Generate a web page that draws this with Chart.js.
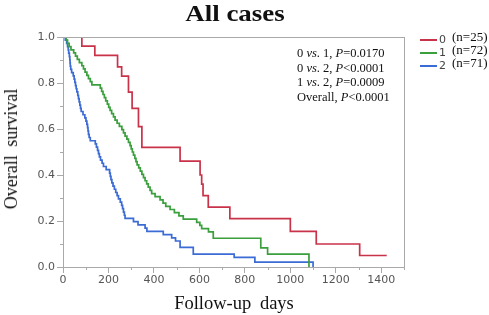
<!DOCTYPE html>
<html lang="en">

<head>
    <meta charset="UTF-8">
    <title>All cases</title>
    <script src="https://cdn.jsdelivr.net/npm/chart.js"></script>
    <style>
        body {
            margin: 0;
            background: #ffffff;
        }

        #wrap {
            position: relative;
            width: 489px;
            height: 315px;
            font-family: "Liberation Serif", "Times New Roman", serif;
            color: #111;
        }

        #wrap div {
            position: absolute;
            white-space: nowrap;
        }

        #legend {
            left: 0;
            top: 0;
        }

        .title {
            left: 235px;
            top: 13px;
            font-size: 23px;
            line-height: 23px;
            font-weight: bold;
            transform: translate(-50%, -50%) scaleX(1.17);
        }

        .ytitle {
            left: 11px;
            top: 149px;
            font-size: 18px;
            line-height: 18px;
            word-spacing: 4px;
            transform: translate(-50%, -50%) rotate(-90deg);
        }

        .xtitle {
            left: 234px;
            top: 303px;
            font-size: 18.5px;
            line-height: 18.5px;
            word-spacing: 4px;
            transform: translate(-50%, -50%);
        }

        .stats {
            left: 297px;
            top: 46px;
            font-size: 12.5px;
            line-height: 14.7px;
        }

        .key {
            left: 420px;
            width: 69px;
            height: 13px;
        }

        .key span {
            position: absolute;
            white-space: nowrap;
        }

        .key .swatch {
            left: 0;
            top: 6px;
            width: 17px;
            height: 2px;
        }

        .key .num {
            left: 19px;
            top: 0px;
            font-family: "DejaVu Sans", sans-serif;
            font-size: 11px;
            line-height: 13px;
            color: #444;
        }

        .key .n {
            left: 32px;
            top: -3px;
            font-size: 13px;
            line-height: 13px;
        }
    </style>
</head>

<body>
    <div id="wrap">
        <canvas id="myChart" width="489" height="315"></canvas>
        <div class="title">All cases</div>
        <div class="ytitle">Overall survival</div>
        <div class="xtitle">Follow-up days</div>
        <div class="stats">
            0 <i>vs</i>. 1, <i>P</i>=0.0170<br>
            0 <i>vs</i>. 2, <i>P</i>&lt;0.0001<br>
            1 <i>vs</i>. 2, <i>P</i>=0.0009<br>
            Overall, <i>P</i>&lt;0.0001
        </div>
        <div id="legend"></div>
    </div>

    <script>
        // 各組存活曲線 (Kaplan-Meier)，天數與存活率
        const groupNames = ['0', '1', '2'];
        const groupSizes = [25, 72, 71];
        const groupColors = ['#c9334a', '#3a9f3c', '#3b6bd4'];

        const group0Days = [0, 83, 140, 240, 258, 288, 304, 332, 347, 515, 603, 610, 616, 639, 734, 1000, 1114, 1305, 1424];
        const group0Surv = [1.0, 0.96, 0.92, 0.87, 0.83, 0.76, 0.69, 0.61, 0.52, 0.46, 0.40, 0.36, 0.31, 0.26, 0.21, 0.155, 0.10, 0.05, 0.05];

        const group1Days = [0, 14, 20, 27, 35, 47, 55, 63, 72, 83, 90, 97, 105, 112, 120, 127, 164, 170, 176, 182, 188, 195,
            201, 207, 214, 222, 229, 238, 248, 259, 266, 273, 281, 288, 295, 300, 305, 310, 316, 321, 326, 333, 340, 347,
            354, 361, 368, 375, 383, 390, 405, 427, 440, 452, 471, 490, 510, 529, 588, 602, 610, 640, 661, 870, 900, 1082];
        const group1Surv = [1.0, 0.986, 0.972, 0.958, 0.944, 0.931, 0.917, 0.903, 0.889, 0.875, 0.861, 0.847, 0.833, 0.819,
            0.806, 0.792, 0.778, 0.764, 0.750, 0.736, 0.722, 0.708, 0.694, 0.681, 0.667, 0.653, 0.639, 0.625, 0.611, 0.597,
            0.583, 0.569, 0.556, 0.542, 0.528, 0.514, 0.500, 0.486, 0.472, 0.458, 0.444, 0.431, 0.417, 0.403, 0.389, 0.375,
            0.361, 0.347, 0.333, 0.319, 0.306, 0.292, 0.278, 0.264, 0.250, 0.236, 0.222, 0.208, 0.194, 0.181, 0.167, 0.153,
            0.125, 0.083, 0.056, 0.0];

        const group2Days = [0, 10, 16, 20, 23, 25, 28, 30, 31, 32, 34, 38, 45, 49, 52, 55, 58, 61, 65, 68, 71, 74, 77, 80,
            88, 96, 101, 105, 108, 110, 112, 115, 120, 142, 147, 152, 156, 160, 165, 172, 178, 190, 205, 208, 211, 215, 220,
            226, 232, 238, 244, 252, 258, 262, 266, 270, 273, 310, 330, 361, 369, 441, 478, 495, 515, 573, 753, 844, 1100];
        const group2Surv = [1.0, 0.986, 0.972, 0.958, 0.944, 0.930, 0.915, 0.901, 0.887, 0.873, 0.859, 0.845, 0.831, 0.817,
            0.803, 0.789, 0.775, 0.761, 0.746, 0.732, 0.718, 0.704, 0.690, 0.676, 0.662, 0.648, 0.634, 0.620, 0.606, 0.592,
            0.577, 0.563, 0.549, 0.535, 0.521, 0.507, 0.493, 0.479, 0.465, 0.451, 0.437, 0.423, 0.408, 0.394, 0.380, 0.366,
            0.352, 0.338, 0.324, 0.310, 0.296, 0.282, 0.268, 0.254, 0.239, 0.225, 0.211, 0.197, 0.183, 0.169, 0.155, 0.141,
            0.127, 0.113, 0.085, 0.056, 0.042, 0.021, 0.0];

        const xTickLabels = [0, 200, 400, 600, 800, 1000, 1200, 1400];
        const yTickLabels = [0.0, 0.2, 0.4, 0.6, 0.8, 1.0];

        const allDays = [group0Days, group1Days, group2Days];
        const allSurv = [group0Surv, group1Surv, group2Surv];

        const axisGray = '#a9a9a9';

        // 圖例
        const legend = document.getElementById('legend');
        groupNames.forEach((name, i) => {
            const row = document.createElement('div');
            row.className = 'key';
            row.style.top = (33 + i * 13) + 'px';
            row.innerHTML = `<span class="swatch" style="background:${groupColors[i]}"></span>` +
                `<span class="num">${name}</span><span class="n">(n=${groupSizes[i]})</span>`;
            legend.appendChild(row);
        });

        // 次要刻度較短，另外畫
        const minorTicks = {
            id: 'minorTicks',
            afterDraw(chart) {
                const ctx = chart.ctx;
                ctx.save();
                ctx.strokeStyle = axisGray;
                ctx.lineWidth = 1;
                const xs = chart.scales.x;
                xs.ticks.forEach((t, i) => {
                    if (xTickLabels.includes(t.value)) return;
                    const px = Math.round(xs.getPixelForTick(i)) + 0.5;
                    ctx.beginPath();
                    ctx.moveTo(px, xs.top);
                    ctx.lineTo(px, xs.top + 3);
                    ctx.stroke();
                });
                const ys = chart.scales.y;
                ys.ticks.forEach((t, i) => {
                    if (Math.round(t.value * 10) % 2 === 0) return;
                    const py = Math.round(ys.getPixelForTick(i)) + 0.5;
                    ctx.beginPath();
                    ctx.moveTo(ys.right, py);
                    ctx.lineTo(ys.right - 3, py);
                    ctx.stroke();
                });
                ctx.restore();
            },
            afterDatasetsDraw(chart) {
                // 外框
                const a = chart.chartArea;
                const ctx = chart.ctx;
                ctx.save();
                ctx.strokeStyle = axisGray;
                ctx.lineWidth = 1;
                ctx.strokeRect(Math.round(a.left) + 0.5, Math.round(a.top) + 0.5,
                    Math.round(a.right - a.left), Math.round(a.bottom - a.top));
                ctx.restore();
            }
        };

        const ctx = document.getElementById('myChart').getContext('2d');
        const myChart = new Chart(ctx, {
            type: 'line',
            data: {
                datasets: groupNames.map((name, i) => ({
                    label: name,
                    data: allDays[i].map((d, j) => ({ x: d, y: allSurv[i][j] })),
                    borderColor: groupColors[i],
                    borderWidth: 1.7,
                    pointRadius: 0,
                    stepped: 'before',
                    fill: false,
                    clip: 0
                }))
            },
            options: {
                responsive: false,
                animation: false,
                devicePixelRatio: 1,
                layout: {
                    padding: { left: 0, top: 37, right: 85, bottom: 0 }
                },
                plugins: {
                    legend: { display: false },
                    tooltip: { enabled: false }
                },
                scales: {
                    x: {
                        type: 'linear',
                        min: 0,
                        max: 1500,
                        ticks: {
                            stepSize: 100,
                            autoSkip: false,
                            maxRotation: 0,
                            padding: 1,
                            color: '#555',
                            font: { family: 'DejaVu Sans', size: 11 },
                            callback: v => xTickLabels.includes(v) ? String(v) : ''
                        },
                        grid: {
                            drawOnChartArea: false,
                            drawTicks: true,
                            tickLength: 6,
                            tickColor: c => xTickLabels.includes(c.tick.value) ? axisGray : 'rgba(0,0,0,0)'
                        },
                        border: { display: true, color: axisGray, width: 1 },
                        afterFit: s => { s.height = 48; }
                    },
                    y: {
                        min: 0,
                        max: 1,
                        ticks: {
                            stepSize: 0.1,
                            autoSkip: false,
                            padding: 2,
                            color: '#555',
                            font: { family: 'DejaVu Sans', size: 11 },
                            callback: v => {
                                const k = Math.round(v * 10);
                                return k % 2 === 0 ? yTickLabels[k / 2].toFixed(1) : '';
                            }
                        },
                        grid: {
                            drawOnChartArea: false,
                            drawTicks: true,
                            tickLength: 6,
                            tickColor: c => Math.round(c.tick.value * 10) % 2 === 0 ? axisGray : 'rgba(0,0,0,0)'
                        },
                        border: { display: true, color: axisGray, width: 1 },
                        afterFit: s => { s.width = 63; }
                    }
                }
            },
            plugins: [minorTicks]
        });
    </script>
</body>

</html>
